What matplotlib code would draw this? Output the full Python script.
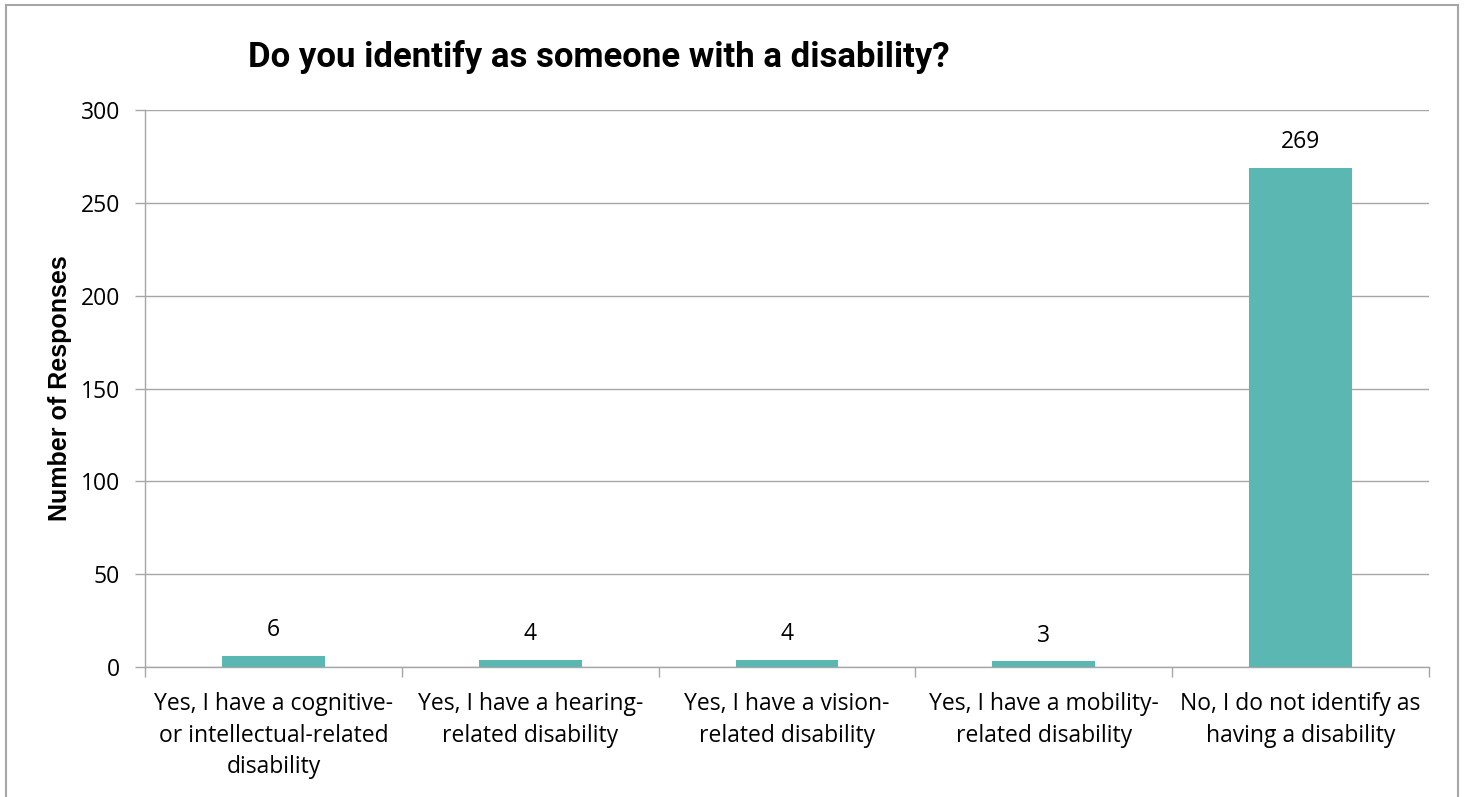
import matplotlib
matplotlib.use("Agg")
import matplotlib.pyplot as plt
from matplotlib.lines import Line2D
import numpy as np

categories = [
    "Yes, I have a cognitive-\nor intellectual-related\ndisability",
    "Yes, I have a hearing-\nrelated disability",
    "Yes, I have a vision-\nrelated disability",
    "Yes, I have a mobility-\nrelated disability",
    "No, I do not identify as\nhaving a disability",
]
responses = [6, 4, 4, 3, 269]
y_ticks = [0, 50, 100, 150, 200, 250, 300]

W, H = 1465, 797
fig = plt.figure(figsize=(W / 100, H / 100), dpi=100)
ax = fig.add_axes([145 / W, 1 - 667 / H, (1429 - 145) / W, (667 - 110) / H])

bar_color = "#5BB7B2"
grey = "#A6A6A6"
label_font = ["Open Sans", "DejaVu Sans"]
fs = 16.5

x = np.arange(len(categories))
ax.bar(x, responses, width=0.4, color=bar_color, zorder=3)
ax.set_xlim(-0.5, len(categories) - 0.5)
ax.set_ylim(0, 300)

for xi, v in zip(x, responses):
    ax.annotate(str(v), (xi, v), xytext=(0, 10), textcoords="offset points",
                ha="center", va="bottom", fontsize=fs, family=label_font)

ax.set_yticks(y_ticks)
ax.set_yticklabels([str(t) for t in y_ticks], family=label_font, fontsize=fs)
ax.yaxis.grid(True, color=grey, linewidth=1.0, zorder=0)
ax.tick_params(axis="y", length=7, color=grey, width=1, pad=11)

ax.set_xticks(x)
ax.set_xticklabels(categories, family=label_font, fontsize=fs, linespacing=1.42)
ax.tick_params(axis="x", which="major", length=0, pad=18)
ax.set_xticks(np.arange(-0.5, len(categories)), minor=True)
ax.tick_params(axis="x", which="minor", length=7, color=grey, width=1)

for side in ("top", "right"):
    ax.spines[side].set_visible(False)
for side in ("left", "bottom"):
    ax.spines[side].set_color(grey)
    ax.spines[side].set_linewidth(1.0)

ax.set_ylabel("Number of Responses", family=["Liberation Sans", "DejaVu Sans"],
              fontweight="bold", fontsize=18, labelpad=6)

fig.text(599 / W, 1 - 67 / H, "Do you identify as someone with a disability?",
         ha="center", va="baseline", fontsize=25, fontweight="bold",
         family=["Roboto", "DejaVu Sans"])

# outer chart frame (left, top, right edges)
fx0, fx1, fy0 = 6 / W, 1458 / W, 1 - 5 / H
frame_kw = dict(color="#A6A6A6", linewidth=1.5, transform=fig.transFigure)
fig.add_artist(Line2D([fx0, fx0], [0, fy0], **frame_kw))
fig.add_artist(Line2D([fx0, fx1], [fy0, fy0], **frame_kw))
fig.add_artist(Line2D([fx1, fx1], [0, fy0], **frame_kw))

fig.savefig("out.png", dpi=100)
